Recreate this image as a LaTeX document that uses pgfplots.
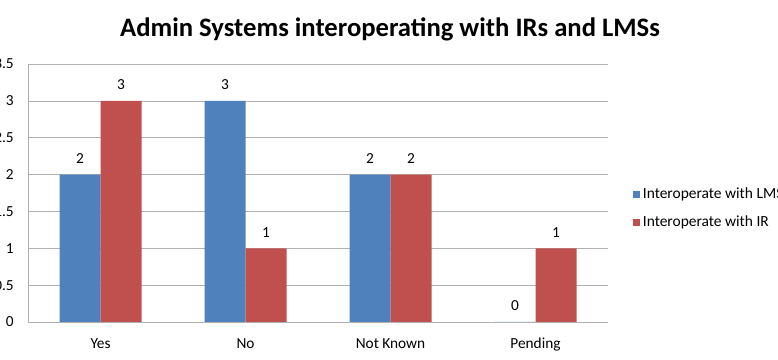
\documentclass[border=0pt]{standalone}
\usepackage{pgfplots}
\pgfplotsset{compat=1.18}
\usepackage{fontspec}
\setmainfont{Carlito}
\newlength\px
\setlength\px{0.75pt}
\definecolor{xlblue}{HTML}{4F81BD}
\definecolor{xlred}{HTML}{C0504D}
\begin{document}
\begin{tikzpicture}
\path[use as bounding box] (0,0) rectangle (778\px,360\px);
\clip (0,0) rectangle (778\px,360\px);
\node[font=\bfseries\fontsize{20}{24}\selectfont] at (390\px,331\px) {Admin Systems interoperating with IRs and LMSs};
\begin{axis}[
  at={(28\px,38\px)}, anchor=south west, scale only axis,
  width=580\px, height=258\px,
  ybar=0pt, bar width=41\px,
  xmin=-0.5, xmax=3.5, ymin=0, ymax=3.5,
  xtick={0,1,2,3}, xticklabels={Yes,No,Not Known,Pending},
  ytick={0,0.5,1,1.5,2,2.5,3,3.5},
  yticklabels={0,0.5,1,1.5,2,2.5,3,3.5},
  /pgf/number format/assume math mode=true,
  axis x line*=bottom, axis y line*=left,
  axis line style={-, draw=black!30},
  ymajorgrids, grid style={black!30},
  major tick length=0pt,
  tick label style={font=\fontsize{11.5}{13}\selectfont, inner sep=0pt},
  yticklabel style={anchor=east, xshift=-14\px},
  xticklabel style={anchor=center, yshift=-22\px},
  nodes near coords,
  every node near coord/.append style={font=\fontsize{11.5}{13}\selectfont, inner sep=0pt, anchor=center, yshift=16\px},
  legend style={draw=none, at={(1.043,0.44)}, anchor=west, font=\fontsize{11.6}{13}\selectfont, row sep=10\px, inner sep=0pt},
  legend cell align=left,
  legend image code/.code={\fill[#1] (0pt,-3.3\px) rectangle (7\px,3.3\px);},
]
\addplot[fill=xlblue, draw=none] coordinates {(0,2) (1,3) (2,2) (3,0)};
\addplot[fill=xlred, draw=none] coordinates {(0,3) (1,1) (2,2) (3,1)};
\legend{Interoperate with LMS, Interoperate with IR}
\end{axis}
\end{tikzpicture}
\end{document}
